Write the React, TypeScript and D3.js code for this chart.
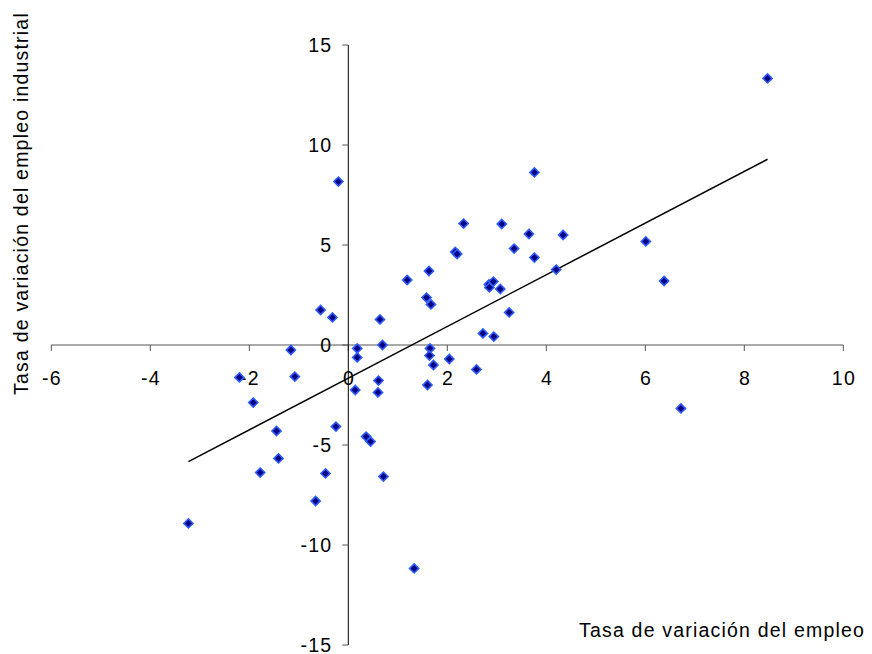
import React from "react";
import * as d3 from "d3";

const xTicks = [-6, -4, -2, 0, 2, 4, 6, 8, 10];
const yTicks = [-15, -10, -5, 0, 5, 10, 15];

const empleo = [
  -3.23, -2.2, -1.92, -1.78, -1.45, -1.41, -1.16, -1.08, -0.66, -0.56, -0.46, -0.32, -0.25, -0.2,
  0.14, 0.18, 0.18, 0.36, 0.45, 0.61, 0.6, 0.64, 0.69, 0.71, 1.19, 1.33, 1.58, 1.6, 1.63, 1.65,
  1.64, 1.67, 1.72, 2.04, 2.16, 2.2, 2.33, 2.59, 2.72, 2.84, 2.85, 2.93, 2.94, 3.07, 3.1, 3.25,
  3.35, 3.65, 3.76, 3.76, 4.2, 4.34, 6.01, 6.38, 6.72, 8.47,
];
const empleoIndustrial = [
  -8.92, -1.62, -2.88, -6.38, -4.3, -5.67, -0.25, -1.58, -7.8, 1.75, -6.42, 1.38, -4.08, 8.17,
  -2.25, -0.17, -0.62, -4.58, -4.83, -1.78, -2.37, 1.28, 0.0, -6.58, 3.25, -11.17, 2.37, -2.0, 3.7, -0.17,
  -0.53, 2.03, -1.0, -0.7, 4.65, 4.55, 6.07, -1.22, 0.58, 3.03, 2.88, 3.17, 0.42, 2.8, 6.05, 1.63,
  4.82, 5.55, 8.63, 4.37, 3.77, 5.5, 5.18, 3.2, -3.17, 13.33,
];
const trendSlope = 1.292;
const trendIntercept = -1.657;

const xLabel = "Tasa de variación del empleo";
const yLabel = "Tasa de variación del empleo industrial";

export default function App() {
  const W = 872;
  const H = 654;
  const x = d3.scaleLinear().domain([-6, 10]).range([51.3, 843.3]);
  const y = d3.scaleLinear().domain([-15, 15]).range([645, 45]);
  const font = "'Liberation Sans', Arial, sans-serif";
  const fs = 19.5;
  const ls = 1.2;
  const ext = d3.extent(empleo) as [number, number];
  const trend = d3.line<number>()
    .x((d) => x(d))
    .y((d) => y(trendSlope * d + trendIntercept))(ext);
  const diamond = d3.symbol(d3.symbolSquare, 42)();
  const x0 = x(0);
  const y0 = y(0);
  return (
    <svg width={W} height={H} style={{ position: "absolute", left: 0, top: 0, background: "#fff" }}
      fontFamily={font} fontSize={fs}>
      <rect width={W} height={H} fill="#fff" />
      {/* x axis */}
      <line x1={x(-6)} x2={x(10)} y1={y0} y2={y0} stroke="#555" strokeWidth={1} />
      {xTicks.map((t) => (
        <g key={"xt" + t}>
          <line x1={x(t)} x2={x(t)} y1={y0} y2={y0 + 6} stroke="#555" strokeWidth={1} />
          <text x={x(t) + ls / 2} y={y0 + 40} textAnchor="middle" letterSpacing={ls} fill="#000">{t}</text>
        </g>
      ))}
      {/* y axis */}
      <line x1={x0} x2={x0} y1={y(15)} y2={y(-15)} stroke="#000" strokeWidth={1} />
      {yTicks.map((t) => (
        <g key={"yt" + t}>
          <line x1={x0 - 6} x2={x0} y1={y(t)} y2={y(t)} stroke="#555" strokeWidth={1} />
          <text x={x0 - 16} y={y(t) + 7} textAnchor="end" letterSpacing={ls} fill="#000">{t}</text>
        </g>
      ))}
      {/* trend line */}
      <path d={trend || ""} fill="none" stroke="#000" strokeWidth={1.5} />
      {/* points */}
      {empleo.map((v, i) => (
        <path key={"p" + i} d={diamond || ""}
          transform={`translate(${x(v)},${y(empleoIndustrial[i])}) rotate(45)`}
          fill="#000080" stroke="#2f5cff" strokeWidth={1.6} />
      ))}
      {/* labels */}
      <text x={579} y={637} letterSpacing={ls} fill="#000">{xLabel}</text>
      <text transform={`translate(28,${(397 + 10) / 2}) rotate(-90)`} textAnchor="middle" letterSpacing={ls} fill="#000">{yLabel}</text>
    </svg>
  );
}
